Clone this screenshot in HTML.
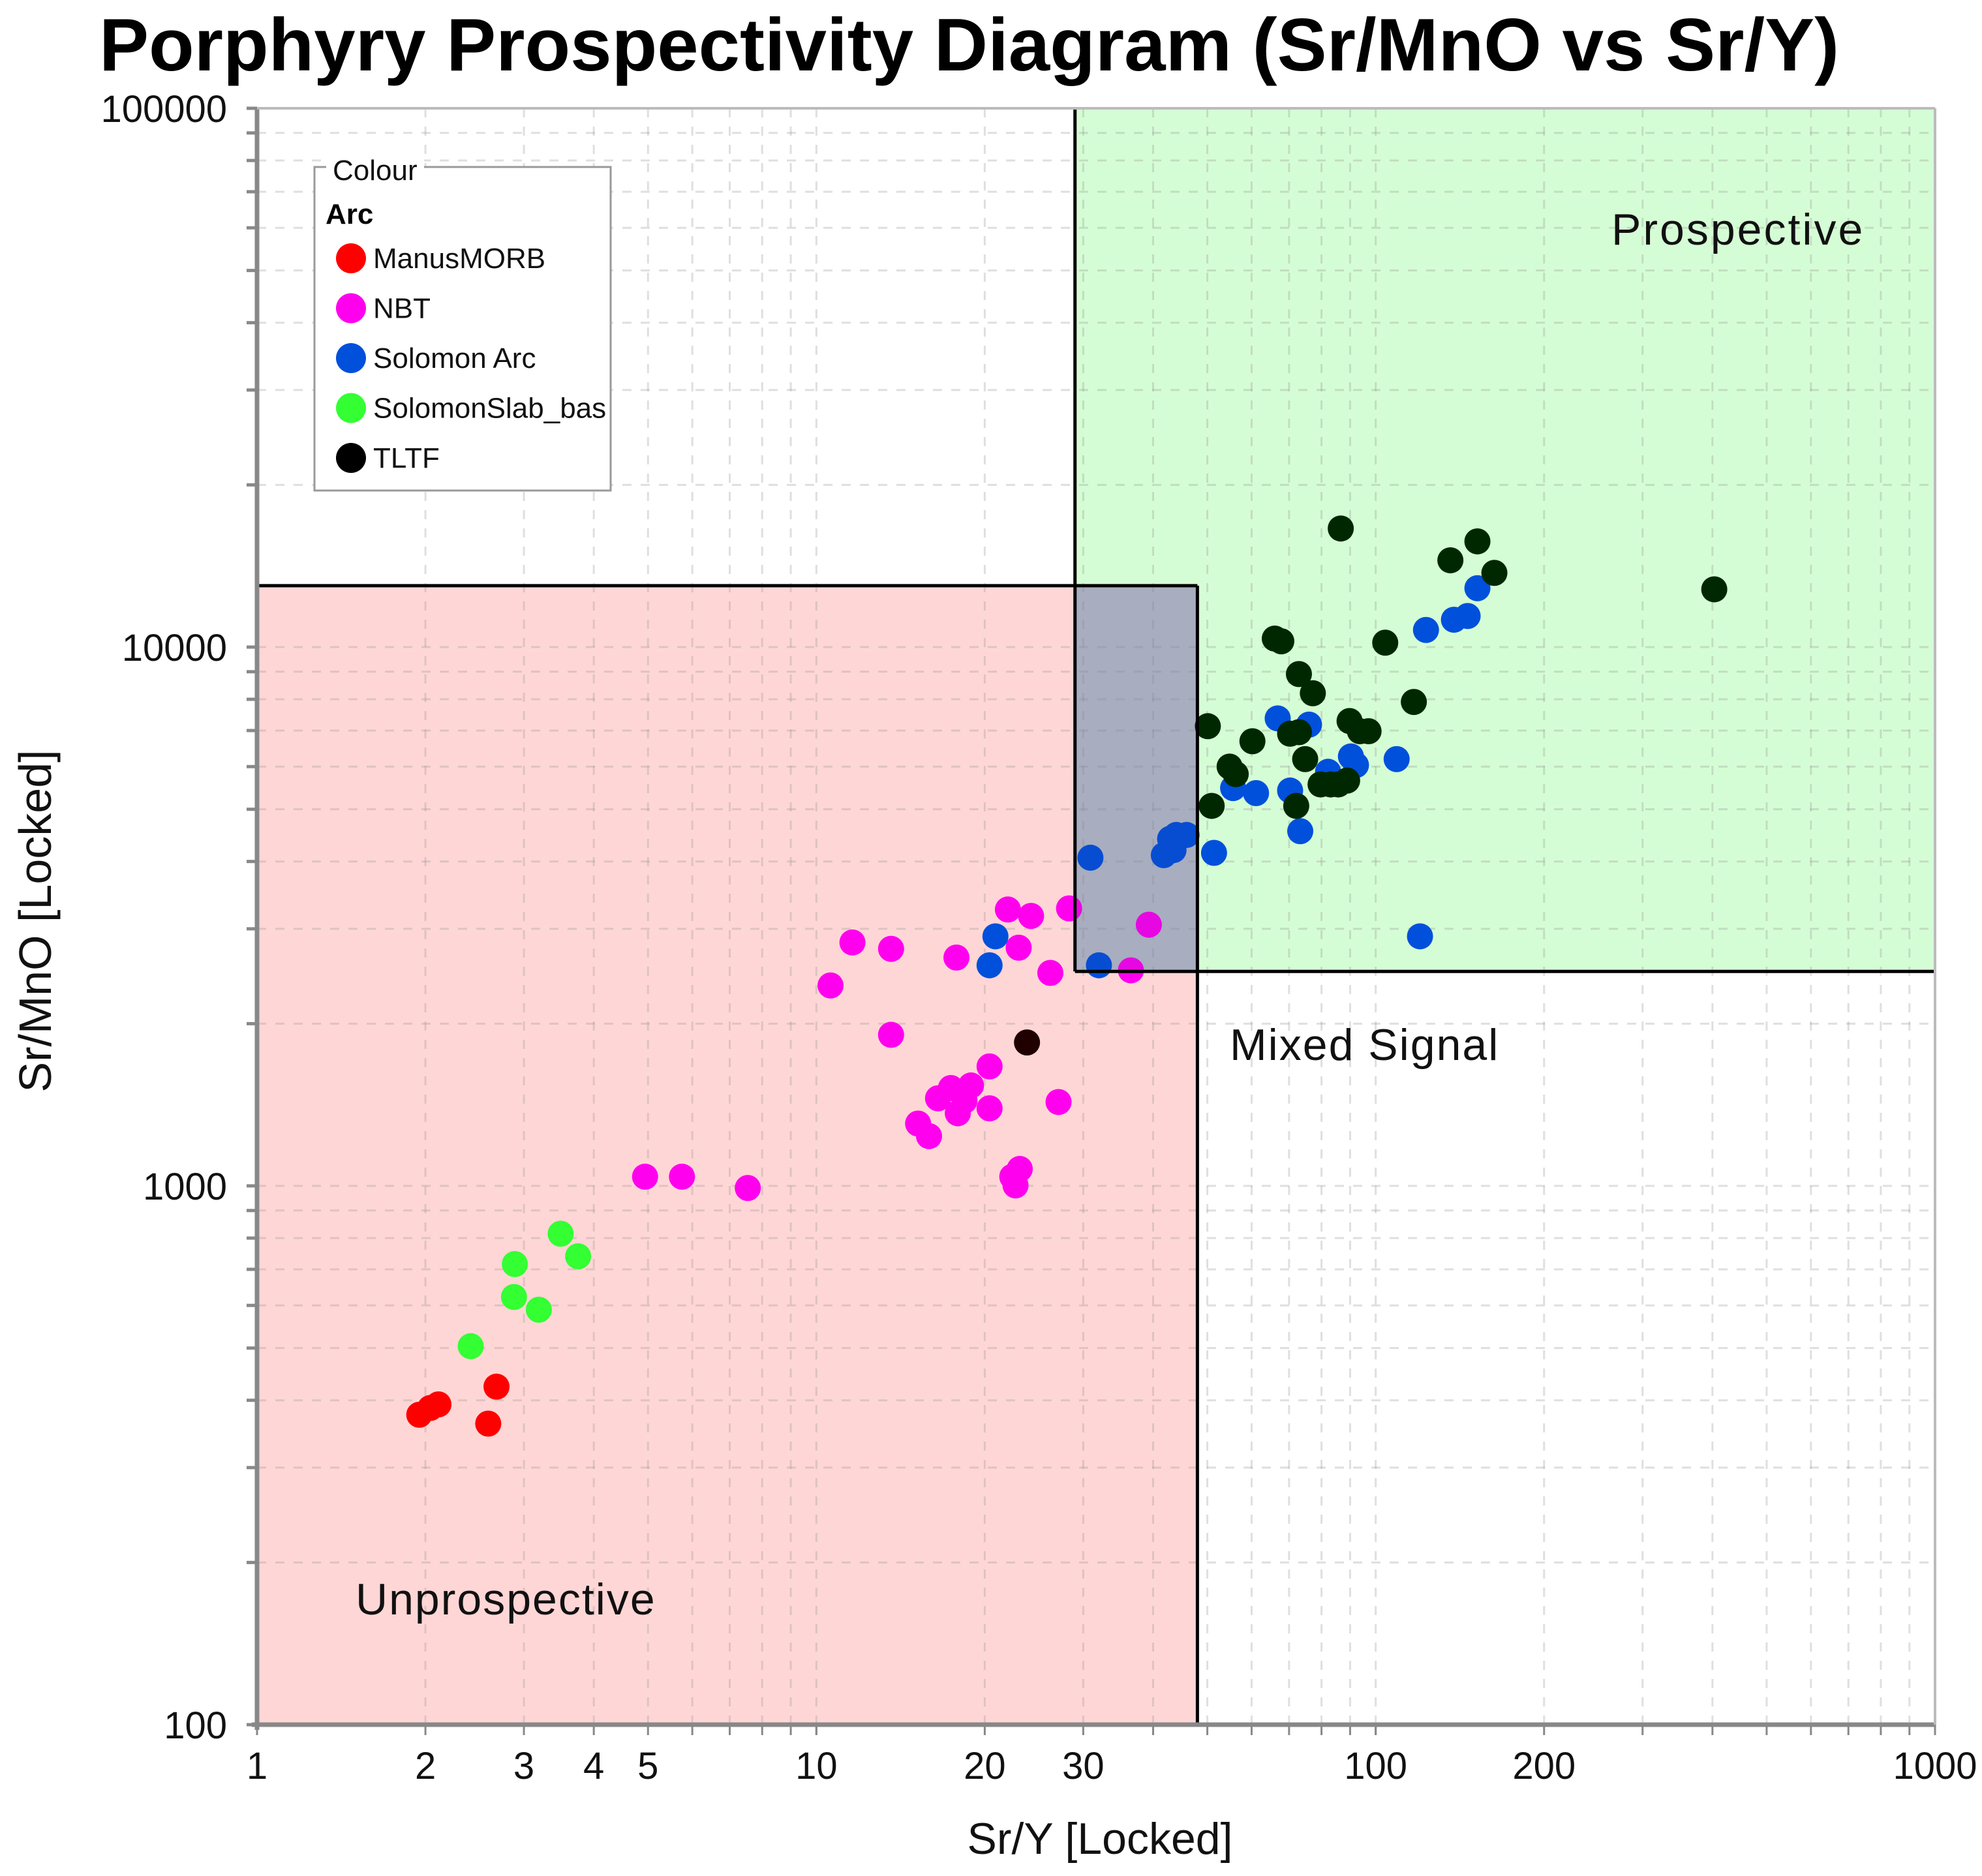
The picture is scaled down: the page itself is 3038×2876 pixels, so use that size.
<!DOCTYPE html>
<html><head><meta charset="utf-8"><style>
html,body{margin:0;padding:0;background:#fff;}
svg{display:block;font-family:"Liberation Sans",sans-serif;}
</style></head><body>
<svg id="chart" width="3038" height="2876" viewBox="0 0 3038 2876" xmlns="http://www.w3.org/2000/svg">
<text x="152" y="108" font-size="114" font-weight="bold" fill="#000">Porphyry Prospectivity Diagram (Sr/MnO vs Sr/Y)</text>
<g id="regions"></g>
<g id="grid"></g>
<g id="points"></g>
<g id="overlay"></g>
<g id="axes"></g>
<text x="2470" y="375" font-size="68" fill="#111" letter-spacing="3">Prospective</text>
<text x="1885" y="1625" font-size="68" fill="#111" letter-spacing="2">Mixed Signal</text>
<text x="545" y="2475" font-size="68" fill="#111" letter-spacing="2">Unprospective</text>
<text x="1686" y="2842" font-size="68" text-anchor="middle" fill="#111">Sr/Y [Locked]</text>
<text transform="translate(78,1412) rotate(-90)" font-size="70" text-anchor="middle" fill="#111">Sr/MnO [Locked]</text>
<g id="legend">
<rect x="482" y="256" width="454" height="496" fill="#fff" stroke="#999" stroke-width="3"/>
<rect x="500" y="235" width="150" height="40" fill="#fff"/>
<text x="510" y="276" font-size="44" fill="#111">Colour</text>
<text x="499" y="343" font-size="44" font-weight="bold" fill="#000">Arc</text>
</g>
</svg>
<script>
const xTicks=[1,2,3,4,5,10,20,30,100,200,1000];
const yTicks=[100,1000,10000,100000];
const seriesNames=["ManusMORB","NBT","Solomon Arc","SolomonSlab_bas","TLTF"];
const seriesColors=["#ff0000","#ff00ee","#0050dc","#33ff33","#002800"];
const manusX=[1.95,2.04,2.11,2.68,2.59];
const manusY=[376,387,393,424,362];
const nbtX=[4.94,5.75,7.54,10.6,11.6,13.6,13.6,15.2,15.9,16.5,17.4,17.9,18.4,18.9,20.4,20.4,17.8,22.0,23.0,24.2,26.2,28.3,27.1,22.4,23.1,22.7,36.5,39.3];
const nbtY=[1040,1040,991,2355,2830,2754,1907,1305,1237,1454,1519,1364,1439,1536,1666,1393,2653,3258,2767,3170,2485,3273,1431,1040,1075,1002,2512,3053];
const solX=[20.9,20.4,30.9,32.0,41.8,42.9,44.0,45.9,43.5,51.4,55.6,61.1,66.8,70.3,73.3,76.0,82.2,90.3,92.2,109,120,123,138,146,152];
const solY=[2905,2567,4065,2567,4110,4406,4480,4480,4200,4150,5475,5357,7373,5417,4553,7180,5869,6266,6040,6196,2905,10760,11240,11420,12860];
const slabX=[2.41,2.88,2.89,3.19,3.49,3.75];
const slabY=[504,622,716,589,815,740];
const tltfX=[23.8,50.1,50.9,54.8,56.2,60.2,66.0,67.8,70.3,72.9,72.9,74.8,72.1,77.2,79.7,83.1,85.7,88.9,89.8,93.7,97.1,86.6,104,117,136,152,163,403];
const tltfY=[1846,7131,5073,6000,5810,6686,10370,10250,6906,6950,8910,6196,5073,8210,5560,5560,5560,5653,7290,6980,6980,16600,10190,7910,14490,15710,13730,12800];
const regionUnpX=[1,48];const regionUnpY=[100,13000];
const regionProX=[29,1000];const regionProY=[2500,100000];

const NS="http://www.w3.org/2000/svg";
const L=394,R=2966,T=166,B=2644;
function sx(v){return L+(Math.log10(v)-0)/3*(R-L);}
function sy(v){return B-(Math.log10(v)-2)/3*(B-T);}
function mk(tag,attrs,parent){const e=document.createElementNS(NS,tag);for(const k in attrs)e.setAttribute(k,attrs[k]);parent.appendChild(e);return e;}
const gR=document.getElementById('regions'),gG=document.getElementById('grid'),gP=document.getElementById('points'),gO=document.getElementById('overlay'),gA=document.getElementById('axes');

let r1=mk('rect',{x:sx(regionUnpX[0]),y:sy(regionUnpY[1]),width:sx(regionUnpX[1])-sx(regionUnpX[0]),height:sy(regionUnpY[0])-sy(regionUnpY[1]),fill:'#ffd6d6'},gR);


let r2=mk('rect',{x:sx(regionProX[0]),y:sy(regionProY[1]),width:sx(regionProX[1])-sx(regionProX[0]),height:sy(regionProY[0])-sy(regionProY[1]),fill:'#d5fdd5'},gR);


let r3=mk('rect',{x:sx(regionProX[0]),y:sy(regionUnpY[1]),width:sx(regionUnpX[1])-sx(regionProX[0]),height:sy(regionProY[0])-sy(regionUnpY[1]),fill:'#b8bdc7'},gR);



for(let d=0;d<3;d++)for(let m=1;m<10;m++){
 const v=Math.pow(10,d)*m; if(d===0&&m===1)continue;
 let gl=mk('line',{x1:sx(v),x2:sx(v),y1:T,y2:B,stroke:'rgba(150,150,150,0.3)','stroke-width':3,'stroke-dasharray':'14 14'},gG);
 
 
 const w=100*Math.pow(10,d)*m;
 let gh=mk('line',{x1:L,x2:R,y1:sy(w),y2:sy(w),stroke:'rgba(150,150,150,0.3)','stroke-width':3,'stroke-dasharray':'14 14'},gG);
 
 
}

const bw=5;
function bl(x1,y1,x2,y2){let l=mk('line',{x1,y1,x2,y2,stroke:'#000','stroke-width':bw},gA);
 
 }

const allX=[manusX,nbtX,solX,slabX,tltfX],allY=[manusY,nbtY,solY,slabY,tltfY];
const order=[3,0,1,2,4];
order.forEach(s=>{allX[s].forEach((xv,i)=>{
 const c=mk('circle',{cx:sx(xv),cy:sy(allY[s][i]),r:20,fill:(s===4&&i===0)?'#200000':seriesColors[s]},gP);
 
 
});});
let ov=mk('rect',{x:sx(regionProX[0]),y:sy(regionUnpY[1]),width:sx(regionUnpX[1])-sx(regionProX[0]),height:sy(regionProY[0])-sy(regionUnpY[1]),fill:'rgba(60,60,140,0.12)'},gO);



bl(sx(regionUnpX[1]),sy(regionUnpY[1]),sx(regionUnpX[1]),B);
bl(L,sy(regionUnpY[1]),sx(regionUnpX[1]),sy(regionUnpY[1]));
bl(sx(regionProX[0]),T,sx(regionProX[0]),sy(regionProY[0]));
bl(sx(regionProX[0]),sy(regionProY[0]),R,sy(regionProY[0]));

let ax=mk('line',{x1:L-8,x2:R,y1:B,y2:B,stroke:'#888','stroke-width':7},gA);


let ay=mk('line',{x1:L,x2:L,y1:T,y2:B+8,stroke:'#888','stroke-width':7},gA);


let at=mk('line',{x1:L,x2:R,y1:T,y2:T,stroke:'#bbb','stroke-width':4},gA);


let ar=mk('line',{x1:R,x2:R,y1:T,y2:B,stroke:'#bbb','stroke-width':4},gA);


for(let d=0;d<3;d++)for(let m=1;m<=10;m++){
 const v=Math.pow(10,d)*m;
 let t=mk('line',{x1:sx(v),x2:sx(v),y1:B,y2:B+16,stroke:'#888','stroke-width':3},gA);
 
 
 let t2=mk('line',{x1:L-16,x2:L,y1:sy(v*100),y2:sy(v*100),stroke:'#888','stroke-width':5},gA);
 
 
}
xTicks.forEach(v=>{let t=mk('text',{x:sx(v),y:2727,'font-size':58,'text-anchor':'middle',fill:'#111'},gA);t.textContent=String(v);
 
 });
yTicks.forEach(v=>{let t=mk('text',{x:348,y:sy(v)+21,'font-size':58,'text-anchor':'end',fill:'#111'},gA);t.textContent=String(v);
 
 });

const lg=document.getElementById('legend');
seriesNames.forEach((n,i)=>{
 const y=396+i*76.5;
 let c=mk('circle',{cx:538,cy:y,r:23,fill:seriesColors[i]==='#002800'?'#000':seriesColors[i]},lg);
 
 
 let t=mk('text',{x:572,y:y+15,'font-size':44,fill:'#111'},lg);t.textContent=n;
 
 
});
</script>
</body></html>
